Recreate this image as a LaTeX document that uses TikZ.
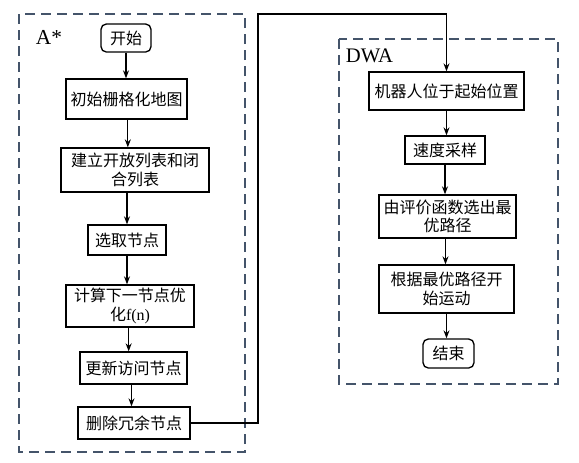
\documentclass[tikz,border=0pt]{standalone}
\usepackage{fontspec}
\setmainfont{Liberation Serif}
\newfontfamily\cjk{Noto Sans CJK SC}
\usetikzlibrary{arrows.meta}

\definecolor{grpgray}{RGB}{68,84,106}
\tikzset{every picture/.style={line width=0.75pt}}
\tikzset{
  stepbox/.style={draw, line width=1pt, inner sep=0pt, align=center,
    font=\cjk\fontsize{12}{14}\selectfont},
  termbox/.style={stepbox, rounded corners=4pt},
  grpbox/.style={draw=grpgray, line width=1.4pt, dash pattern=on 7.5pt off 4.5pt},
  flow/.style={line width=0.9pt, -{Stealth[length=6pt,width=4.5pt]}}
}

\begin{document}
\begin{tikzpicture}[x=0.75pt,y=0.75pt,yscale=-1,xscale=1]
\useasboundingbox (0,0) rectangle (579,462);

%Shape: Rectangle [A* group]
\draw [grpbox] (19,14) rectangle (245,452);
%Shape: Rectangle [DWA group]
\draw [grpbox] (339,39) rectangle (558,384);

% Text Node
\node (labA) at (49,37) [inner sep=0pt, font=\fontsize{16}{16}\selectfont] {A*};
% Text Node
\node (labD) at (369.5,56) [inner sep=0pt, font=\fontsize{15.5}{15.5}\selectfont] {DWA};

% A* steps
\node (start) [termbox, minimum width=37.5pt, minimum height=21pt] at (126,38) {开始};
\node (init) [stepbox, minimum width=90.75pt, minimum height=30pt] at (126.5,99) {初始栅格化地图};
\node (lists) [stepbox, minimum width=111pt, minimum height=33pt] at (135,170) {建立开放列表和闭\\合列表};
\node (pick) [stepbox, minimum width=58.5pt, minimum height=22.5pt] at (127,240) {选取节点};
\node (calc) [stepbox, minimum width=96pt, minimum height=31.5pt] at (130,306) {计算下一节点优\\化\textrm{f(n)}};
\node (upd) [stepbox, minimum width=80.25pt, minimum height=24pt] at (133.5,368) {更新访问节点};
\node (del) [stepbox, minimum width=84pt, minimum height=24pt] at (134,423) {删除冗余节点};

% DWA steps
\node (robot) [stepbox, minimum width=116.25pt, minimum height=28.5pt] at (446.5,91) {机器人位于起始位置};
\node (speed) [stepbox, minimum width=60pt, minimum height=21pt] at (445,150) {速度采样};
\node (eval) [stepbox, minimum width=102.75pt, minimum height=32.25pt] at (447.5,216.5) {由评价函数选出最\\优路径};
\node (move) [stepbox, minimum width=101.25pt, minimum height=36pt] at (446.5,289) {根据最优路径开\\始运动};
\node (stop) [termbox, minimum width=38.25pt, minimum height=21.75pt] at (448.5,353.5) {结束};

%Straight Lines
\draw [flow] (start.south) -- (start.south |- init.north);
\draw [flow] ([xshift=1pt]init.south) -- ([xshift=1pt]init.south |- lists.north);
\draw [flow] (pick.north |- lists.south) -- (pick.north);
\draw [flow] (pick.south) -- (pick.south |- calc.north);
\draw [flow] ([xshift=-1pt]calc.south) -- ([xshift=-1pt]calc.south |- upd.north);
\draw [flow] ([xshift=-1.5pt]upd.south) -- ([xshift=-1.5pt]upd.south |- del.north);

\draw [flow] (robot.south) -- (robot.south |- speed.north);
\draw [flow] (speed.south) -- (speed.south |- eval.north);
\draw [flow] ([xshift=-1.5pt]eval.south) -- ([xshift=-1.5pt]eval.south |- move.north);
\draw [flow] (move.south) -- (move.south |- stop.north);

% link A* -> DWA
\coordinate (turn) at (258,14);
\draw [flow] (del.east) -| (turn) -| (robot.north);
\end{tikzpicture}
\end{document}
